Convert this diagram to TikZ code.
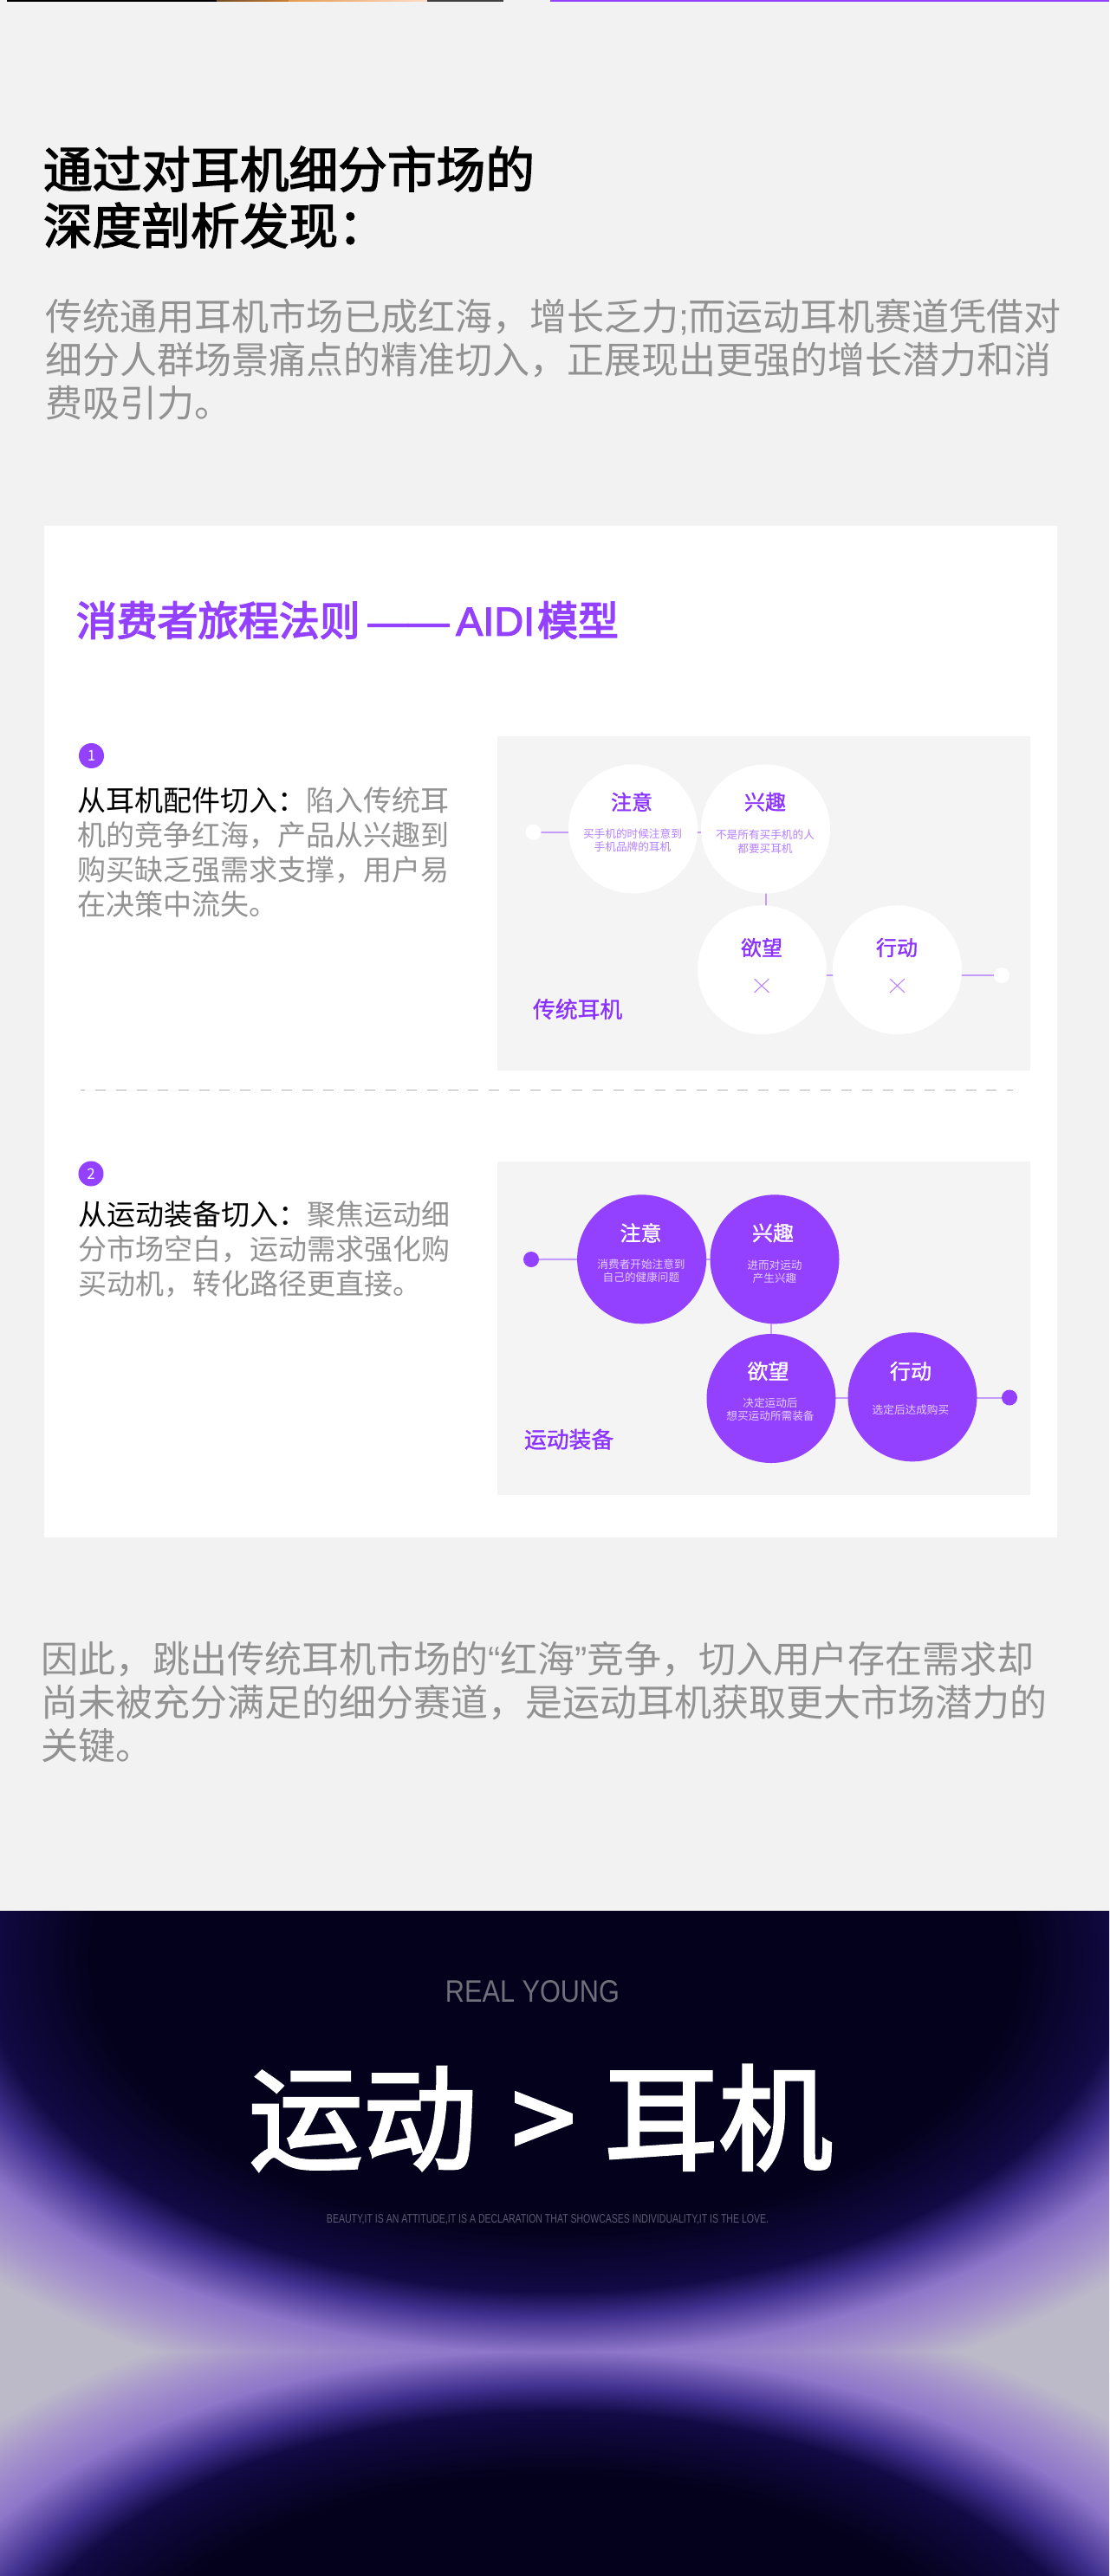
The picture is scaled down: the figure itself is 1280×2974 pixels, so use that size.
\documentclass[tikz,border=0pt]{standalone}
\usepackage{fontspec}
\usetikzlibrary{shapes.misc}
\setmainfont{Noto Sans CJK SC}
\newfontfamily\lat{Liberation Sans}
\newfontfamily\latb[FakeBold=2.5]{Liberation Sans}
\newfontfamily\cjkt[FakeBold=3.2]{Noto Sans CJK SC}
\newfontfamily\cjkh[FakeBold=2.5]{Noto Sans CJK SC}
\newfontfamily\cjks[FakeBold=1.2]{Noto Sans CJK SC}
\definecolor{pagebg}{HTML}{F2F2F2}
\definecolor{panelbg}{HTML}{F4F4F4}
\definecolor{vio}{HTML}{9340FF}
\definecolor{viotext}{HTML}{8A30FF}
\definecolor{viosoft}{HTML}{B57FFF}
\definecolor{violine}{HTML}{C49CFF}
\definecolor{vioface}{HTML}{E3D0FF}
\definecolor{greytext}{HTML}{929292}
\definecolor{ryc}{HTML}{70707C}
\definecolor{smc}{HTML}{5C5A72}
\definecolor{gA}{HTML}{03011B}
\definecolor{gB}{HTML}{120A45}
\definecolor{gC}{HTML}{40308F}
\definecolor{gD}{HTML}{8E76C9}
\definecolor{gE}{HTML}{A593CC}
\definecolor{gF}{HTML}{BCB9C9}
\pgfdeclareradialshading{glow}{\pgfpoint{0bp}{0bp}}{%
  color(0bp)=(gA); color(13.6bp)=(gA); color(16.86bp)=(gB); color(18.17bp)=(gC);
  color(20bp)=(gD); color(21.63bp)=(gE); color(23.2bp)=(gF); color(50bp)=(gF)}
\pgfdeclarelayer{bg}
\pgfsetlayers{bg,main}
\tikzset{
  txt/.style={inner sep=0pt,outer sep=0pt,anchor=west,align=left},
  ctr/.style={inner sep=0pt,outer sep=0pt,anchor=center,align=center},
  whitedisc/.style={circle,fill=white,inner sep=0pt,minimum size=149pt},
  violetdisc/.style={circle,fill=vio,inner sep=0pt,minimum size=149pt},
  whitedot/.style={circle,fill=white,inner sep=0pt,minimum size=18pt},
  violetdot/.style={circle,fill=vio,inner sep=0pt,minimum size=18pt},
  badge/.style={circle,fill=vio,inner sep=0pt,minimum size=29pt,text=white,font=\fontsize{17}{17}\selectfont},
  linkA/.style={draw=violine,line width=2pt},
  linkB/.style={draw=violine,line width=2pt},
  nope/.style={cross out,draw=viosoft,line width=1pt,inner sep=0pt,minimum width=16pt,minimum height=15pt},
  headA/.style={ctr,text=viotext,font=\cjks\fontsize{24}{24}\selectfont},
  headB/.style={ctr,text=white,font=\cjks\fontsize{24}{24}\selectfont},
  descA/.style={ctr,text=viosoft,font=\fontsize{12.65}{15.5}\selectfont},
  descB/.style={ctr,text=vioface,font=\fontsize{12.65}{15}\selectfont},
  lefttext/.style={txt,text=greytext,font=\fontsize{33}{40}\selectfont},
  bigpara/.style={txt,text=greytext,font=\fontsize{43}{50}\selectfont},
}
\begin{document}
\begin{tikzpicture}[x=1pt,y=-1pt]
\useasboundingbox (0,0) rectangle (1280,2974);
\begin{pgfonlayer}{bg}
\fill[pagebg] (0,0) rectangle (1280,2974);
% top strip
\fill[black] (8,0) rectangle (250,1.5);
\shade[left color=brown!60!black,right color=brown!80!orange] (250,0) rectangle (333,1.5);
\shade[left color=orange!50!brown!80,right color=pink!60!orange!40] (333,0) rectangle (493,1.5);
\fill[black!75] (493,0) rectangle (581,1.5);
\fill[vio] (635,0) rectangle (1280,1.5);
% card and panels
\fill[white] (51,607) rectangle (1220,1775);
\fill[panelbg] (574,850) rectangle (1189,1236);
\fill[panelbg] (574,1341) rectangle (1189,1726);
% banner
\fill[gF] (0,2206.5) rectangle (1280,2974);
\begin{scope}
\clip (0,2206.5) rectangle (1280,2715);
\shade[shading=glow] (640,2260) ellipse [x radius=977pt,y radius=571pt];
\end{scope}
\begin{scope}
\clip (0,2715) rectangle (1280,2974);
\shade[shading=glow] (640,3170) ellipse [x radius=977pt,y radius=571pt];
\end{scope}
\end{pgfonlayer}

% top text
\node[txt,text=black,font=\cjkh\fontsize{56.7}{65}\selectfont] (head) at (50,227.5) {通过对耳机细分市场的\\深度剖析发现：};
\node[bigpara] (intro) at (52,415) {传统通用耳机市场已成红海，增长乏力{\lat;}而运动耳机赛道凭借对\\细分人群场景痛点的精准切入，正展现出更强的增长潜力和消\\费吸引力。};

% card title
\node[txt,text=vio,font=\cjkt\fontsize{46.8}{50}\selectfont] (title) at (88,716) {消费者旅程法则\hspace*{9pt}{\latb ——}\hspace*{8pt}{\latb AIDI}\hspace*{3pt}模型};

% section 1
\node[badge] (b1) at (105.5,872.5) {1};
\node[lefttext] (t1) at (89,984) {\textcolor{black}{从耳机配件切入：}陷入传统耳\\机的竞争红海，产品从兴趣到\\购买缺乏强需求支撑，用户易\\在决策中流失。};

\node[whitedisc] (a1) at (730.5,957) {};
\node[whitedisc] (a2) at (883.5,957) {};
\node[whitedisc] (a3) at (879.5,1119.7) {};
\node[whitedisc] (a4) at (1035.5,1119.7) {};
\node[whitedot] (ad) at (615.5,960.7) {};
\node[whitedot] (ae) at (1156,1126) {};
\begin{pgfonlayer}{bg}
\draw[linkA] (ad.center) -- (ad.center -| a1.center);
\draw[linkA] (a1.center |- ad.center) -- (a2.center |- ad.center);
\draw[linkA] (a2.center) -- (a2.center |- a3.center);
\draw[linkA] (a3.center |- ae.center) -- (a4.center |- ae.center);
\draw[linkA] (a4.center |- ae.center) -- (ae.center);
\end{pgfonlayer}
\node[headA] (a1h) at (729,925.7) {注意};
\node[headA] (a2h) at (883,925.7) {兴趣};
\node[headA] (a3h) at (879,1094) {欲望};
\node[headA] (a4h) at (1035,1094) {行动};
\node[descA] (a1d) at (730,970) {买手机的时候注意到\\手机品牌的耳机};
\node[descA] (a2d) at (883,971.5) {不是所有买手机的人\\都要买耳机};
\node[nope] (a3x) at (879,1138) {};
\node[nope] (a4x) at (1035.5,1138) {};
\node[txt,text=viotext,font=\cjks\fontsize{25.8}{26}\selectfont] (alabel) at (615,1165) {传统耳机};

% divider
\coordinate (dv1) at (92.5,1258.3);
\coordinate (dv2) at (1169,1258.3);
\draw[draw=black!30,line width=1.3pt,dash pattern=on 12pt off 11.92pt,dash phase=6.5pt] (dv1) -- (dv2);

% section 2
\node[badge] (b2) at (105,1355) {2};
\node[lefttext] (t2) at (90,1442) {\textcolor{black}{从运动装备切入：}聚焦运动细\\分市场空白，运动需求强化购\\买动机，转化路径更直接。};

\node[violetdisc] (c1) at (740.6,1453.8) {};
\node[violetdisc] (c2) at (894,1453.8) {};
\node[violetdisc] (c3) at (890,1614.5) {};
\node[violetdisc] (c4) at (1053,1612.8) {};
\node[violetdot] (cd) at (613,1454) {};
\node[violetdot] (ce) at (1165,1613.5) {};
\begin{pgfonlayer}{bg}
\draw[linkB] (cd.center) -- (c1.center);
\draw[linkB] (c1.center) -- (c2.center);
\draw[linkB] (c3.center |- c2.center) -- (c3.center);
\draw[linkB] (c3.center |- ce.center) -- (c4.center |- ce.center);
\draw[linkB] (c4.center |- ce.center) -- (ce.center);
\end{pgfonlayer}
\node[headB] (c1h) at (739.6,1423.3) {注意};
\node[headB] (c2h) at (892,1423.3) {兴趣};
\node[headB] (c3h) at (886.5,1583) {欲望};
\node[headB] (c4h) at (1051,1583) {行动};
\node[descB] (c1d) at (740,1467.5) {消费者开始注意到\\自己的健康问题};
\node[descB] (c2d) at (894,1468.5) {进而对运动\\产生兴趣};
\node[descB] (c3d) at (889,1627) {决定运动后\\想买运动所需装备};
\node[descB] (c4d) at (1051,1628) {选定后达成购买};
\node[txt,text=viotext,font=\cjks\fontsize{25.8}{26}\selectfont] (clabel) at (605,1661.7) {运动装备};

% closing paragraph
\node[bigpara] (outro) at (47,1965) {因此，跳出传统耳机市场的{\lat “}红海{\lat ”}竞争，切入用户存在需求却\\尚未被充分满足的细分赛道，是运动耳机获取更大市场潜力的\\关键。};

% banner text
\node[ctr,text=ryc] (ry) at (614.5,2299) {\resizebox{201pt}{25pt}{\lat REAL YOUNG}};
\node[ctr,text=white,font=\cjkh\fontsize{132}{132}\selectfont] (big) at (624,2445) {运动\hspace*{40pt}{>}\hspace*{33pt}耳机};
\node[ctr,text=smc] (small) at (632,2562.7) {\resizebox{510pt}{10pt}{\lat BEAUTY,IT IS AN ATTITUDE,IT IS A DECLARATION THAT SHOWCASES INDIVIDUALITY,IT IS THE LOVE.}};
\end{tikzpicture}
\end{document}
